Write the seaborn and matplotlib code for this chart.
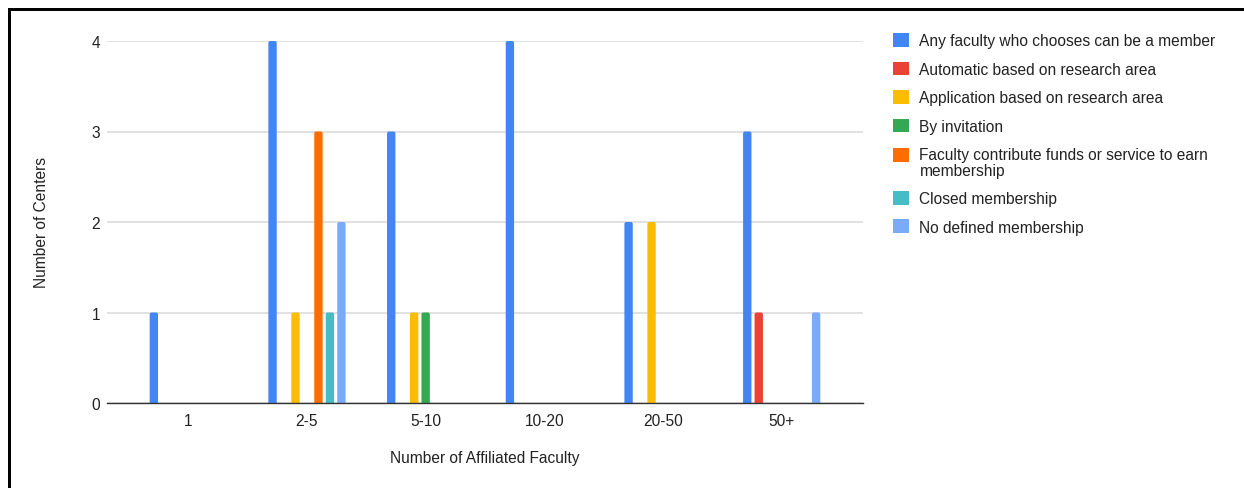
import matplotlib
matplotlib.use("Agg")
import matplotlib.pyplot as plt
from matplotlib.lines import Line2D
from matplotlib.patches import FancyBboxPatch, Rectangle
import seaborn as sns
import pandas as pd

# Faculty-size buckets on the x axis
categories = ["1", "2-5", "5-10", "10-20", "20-50", "50+"]

# Membership models (legend order)
series_names = [
    "Any faculty who chooses can be a member",
    "Automatic based on research area",
    "Application based on research area",
    "By invitation",
    "Faculty contribute funds or service to earn\nmembership",
    "Closed membership",
    "No defined membership",
]

# Number of centers per bucket for each membership model
any_faculty = [1, 4, 3, 4, 2, 3]
automatic = [0, 0, 0, 0, 0, 1]
application = [0, 1, 1, 0, 2, 0]
invitation = [0, 0, 1, 0, 0, 0]
contribute = [0, 3, 0, 0, 0, 0]
closed = [0, 1, 0, 0, 0, 0]
no_defined = [0, 2, 0, 0, 0, 1]

colors = ["#4285F4", "#EA4335", "#FBBC04", "#34A853", "#FF6D01", "#46BDC6", "#7BAAF7"]

all_series = [any_faculty, automatic, application, invitation, contribute, closed, no_defined]
rows = []
for name, vals in zip(series_names, all_series):
    for cat, v in zip(categories, vals):
        rows.append({"faculty": cat, "centers": v, "membership": name})
df = pd.DataFrame(rows)

sns.set_theme(style="white")
plt.rcParams["font.family"] = ["Liberation Sans", "DejaVu Sans"]

W, H = 1244, 489
fig = plt.figure(figsize=(W / 100, H / 100), dpi=100)
ax_left, ax_right, ax_top, ax_bottom = 107, 863, 42, 404
ax = fig.add_axes([ax_left / W, (H - ax_bottom) / H,
                   (ax_right - ax_left) / W, (ax_bottom - ax_top) / H])

sns.barplot(data=df, x="faculty", y="centers", hue="membership",
            order=categories, hue_order=series_names, palette=colors,
            width=0.677, gap=0.27, errorbar=None, ax=ax, zorder=3,
            saturation=1, linewidth=0, edgecolor="none")

xlim = (-0.5 - 0.185, len(categories) - 0.5 + 0.185)
ylim = (0, 4)
ax.set_xlim(*xlim)
ax.set_ylim(*ylim)
ax.set_yticks([0, 1, 2, 3, 4])

# Give the bars slightly rounded tops (bottom corners are hidden below the axis)
px_x = (xlim[1] - xlim[0]) / (ax_right - ax_left)
px_y = (ylim[1] - ylim[0]) / (ax_bottom - ax_top)
r_px = 2.0
for bar in [p for p in ax.patches if isinstance(p, Rectangle)]:
    h = bar.get_height()
    if h <= 0:
        continue
    x0, y0, w = bar.get_x(), bar.get_y(), bar.get_width()
    ext = r_px * px_y
    rounded = FancyBboxPatch((x0, y0 - ext), w, h + ext,
                             boxstyle=f"round,pad=0,rounding_size={r_px * px_x}",
                             mutation_aspect=px_y / px_x,
                             facecolor=bar.get_facecolor(), edgecolor="none",
                             linewidth=0, zorder=3)
    ax.add_patch(rounded)
    bar.set_visible(False)

for s in ["top", "right", "left"]:
    ax.spines[s].set_visible(False)
ax.spines["bottom"].set_color("#333333")
ax.spines["bottom"].set_linewidth(1.0)
ax.spines["bottom"].set_zorder(4)

ax.yaxis.grid(True, color="#dcdcdc", linewidth=1.2, zorder=0)
ax.set_axisbelow(True)

txt = "#222222"
fs = 11.2
ax.tick_params(axis="both", length=0, labelsize=fs, labelcolor=txt)
ax.tick_params(axis="y", pad=5)
ax.tick_params(axis="x", pad=7)

ax.set_xlabel("Number of Affiliated Faculty", fontsize=fs, color=txt)
ax.set_ylabel("Number of Centers", fontsize=fs, color=txt)
ax.xaxis.set_label_coords(0.5, -(459 - ax_bottom) / (ax_bottom - ax_top))
ax.xaxis.label.set_va("center")
ax.yaxis.set_label_coords(-(ax_left - 42) / (ax_right - ax_left), 0.5)
ax.yaxis.label.set_va("center")

handles, labels = ax.get_legend_handles_labels()
if ax.get_legend() is not None:
    ax.get_legend().remove()
leg = fig.legend(handles, labels, loc="upper left",
                 bbox_to_anchor=(893 / W, (H - 34) / H),
                 frameon=False, fontsize=fs, handlelength=1.0,
                 handleheight=1.0, handletextpad=0.7, labelspacing=0.85,
                 borderpad=0, borderaxespad=0)
for t in leg.get_texts():
    t.set_color(txt)
    t.set_linespacing(1.05)

# Align the swatch of the two-line entry with its first line
for h, lab in zip(leg.legend_handles, labels):
    if "\n" in lab:
        h.set_y(h.get_y() + 5.8)

# Black frame along the left and top edges
fig.add_artist(Line2D([8.5 / W, 8.5 / W, 1], [0, 1 - 9.5 / H, 1 - 9.5 / H],
                      color="black", linewidth=3 * 0.72,
                      solid_joinstyle="miter", solid_capstyle="butt",
                      transform=fig.transFigure))

fig.savefig("out.png", dpi=100, facecolor="white")
